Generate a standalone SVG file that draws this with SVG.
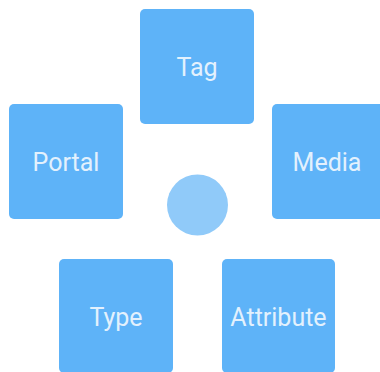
<svg xmlns="http://www.w3.org/2000/svg" width="380" height="372" viewBox="0 0 380 372">
<style>
.box{fill:#5EB3F8}
.lbl{font-family:Roboto,"Noto Sans",sans-serif;font-size:25px;fill:#E3F1FD;text-anchor:middle;dominant-baseline:central}
</style>
<rect width="380" height="372" fill="#FFFFFF"/>
<g id="connectors"></g>
<g id="center"><circle cx="197.5" cy="205" r="30.5" fill="#90CAF9"/></g>
<g id="tag"><rect class="box" x="140" y="9" width="114" height="115" rx="5"/><text class="lbl" x="197" y="67">Tag</text></g>
<g id="portal"><rect class="box" x="9" y="104" width="114" height="115" rx="5"/><text class="lbl" x="66" y="162.5">Portal</text></g>
<g id="media"><rect class="box" x="272" y="104" width="114" height="115" rx="5"/><text class="lbl" x="327" y="162.5">Media</text></g>
<g id="type"><rect class="box" x="59" y="259" width="114" height="114" rx="5"/><text class="lbl" x="116" y="317">Type</text></g>
<g id="attribute"><rect class="box" x="222" y="259" width="113" height="114" rx="5"/><text class="lbl" x="278.5" y="317">Attribute</text></g>
</svg>
